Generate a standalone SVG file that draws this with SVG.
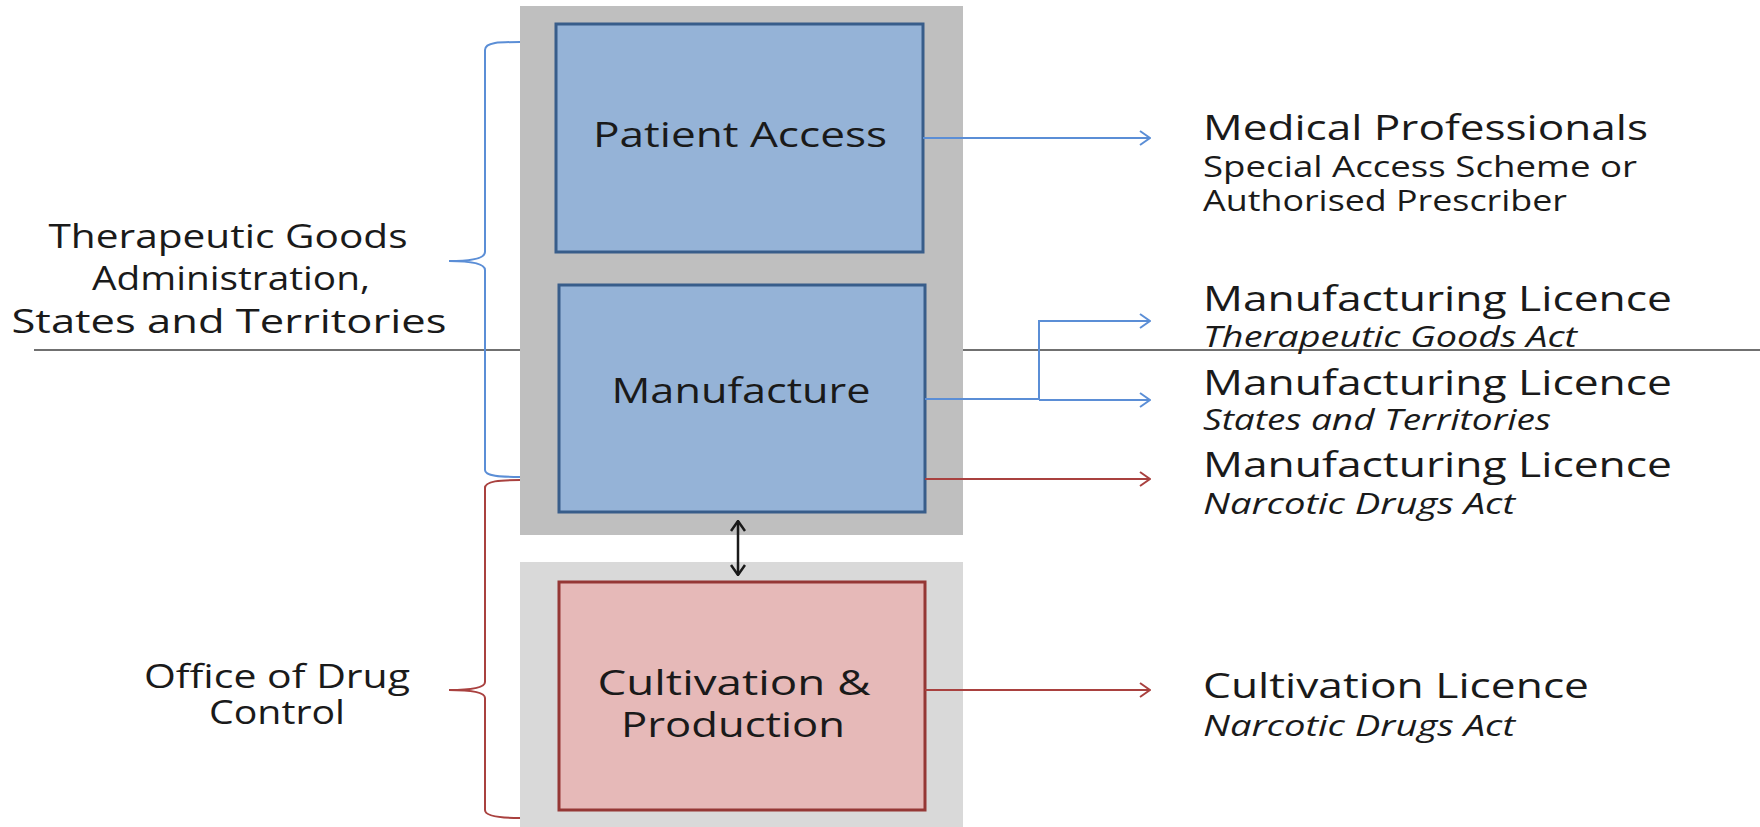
<svg xmlns="http://www.w3.org/2000/svg" width="1760" height="827" viewBox="0 0 1760 827">
<defs>
<style>
text{font-family:"Open Sans","Noto Sans","DejaVu Sans",sans-serif;fill:#1a1a1a}
.big{font-size:34px}
.sub{font-size:29px}
.it{font-style:italic}
.lbl{font-size:32px;text-anchor:middle}
.node{font-size:35px;text-anchor:middle}
.blue{fill:none;stroke:#5B8ED6;stroke-width:2}
.red{fill:none;stroke:#A9413F;stroke-width:2}
.blk{fill:none;stroke:#1a1a1a;stroke-width:2.5}
</style>
<marker id="ab" viewBox="0 0 12 16" refX="11" refY="8" markerWidth="12" markerHeight="16" markerUnits="userSpaceOnUse" orient="auto"><path d="M1,1 L11,8 L1,15" fill="none" stroke="#5B8ED6" stroke-width="2"/></marker>
<marker id="ar" viewBox="0 0 12 16" refX="11" refY="8" markerWidth="12" markerHeight="16" markerUnits="userSpaceOnUse" orient="auto"><path d="M1,1 L11,8 L1,15" fill="none" stroke="#A9413F" stroke-width="2"/></marker>
<marker id="ak" viewBox="0 0 12 16" refX="11" refY="8" markerWidth="12" markerHeight="16" markerUnits="userSpaceOnUse" orient="auto-start-reverse"><path d="M1,1 L11,8 L1,15" fill="none" stroke="#1a1a1a" stroke-width="2.5"/></marker>
</defs>
<rect width="1760" height="827" fill="#ffffff"/>
<line x1="34" y1="350" x2="1760" y2="350" stroke="#404040" stroke-width="1.5"/>
<g id="group-top"><rect x="520" y="6" width="443" height="529" fill="#BFBFBF"/></g>
<g id="group-bottom"><rect x="520" y="562" width="443" height="265" fill="#D9D9D9"/></g>
<g id="patient-access">
<rect x="556" y="24" width="367" height="228" fill="#95B3D7" stroke="#385D8A" stroke-width="3"/>
<text class="node" x="740" y="147" textLength="294" lengthAdjust="spacingAndGlyphs">Patient Access</text>
</g>
<g id="manufacture">
<rect x="559" y="285" width="366" height="227" fill="#95B3D7" stroke="#385D8A" stroke-width="3"/>
<text class="node" x="741" y="403" textLength="259" lengthAdjust="spacingAndGlyphs">Manufacture</text>
</g>
<g id="cultivation">
<rect x="559" y="582" width="366" height="228" fill="#E6B9B8" stroke="#953735" stroke-width="3"/>
<text class="node" x="734" y="695" textLength="273" lengthAdjust="spacingAndGlyphs">Cultivation &amp;</text>
<text class="node" x="733" y="737" textLength="224" lengthAdjust="spacingAndGlyphs">Production</text>
</g>
<g id="tga-label">
<text class="lbl" x="228" y="248" textLength="359" lengthAdjust="spacingAndGlyphs">Therapeutic Goods</text>
<text class="lbl" x="231" y="290" textLength="278" lengthAdjust="spacingAndGlyphs">Administration,</text>
<text class="lbl" x="229" y="333" textLength="435" lengthAdjust="spacingAndGlyphs">States and Territories</text>
</g>
<g id="odc-label">
<text class="lbl" x="277" y="688" textLength="266" lengthAdjust="spacingAndGlyphs">Office of Drug</text>
<text class="lbl" x="277" y="724" textLength="136" lengthAdjust="spacingAndGlyphs">Control</text>
</g>
<g id="medical">
<text class="big" x="1203" y="140" textLength="445" lengthAdjust="spacingAndGlyphs">Medical Professionals</text>
<text class="sub" x="1203" y="177" textLength="434" lengthAdjust="spacingAndGlyphs">Special Access Scheme or</text>
<text class="sub" x="1203" y="211" textLength="364" lengthAdjust="spacingAndGlyphs">Authorised Prescriber</text>
</g>
<g id="ml-tga">
<text class="big" x="1203" y="311" textLength="469" lengthAdjust="spacingAndGlyphs">Manufacturing Licence</text>
<text class="sub it" x="1203" y="347" textLength="374" lengthAdjust="spacingAndGlyphs">Therapeutic Goods Act</text>
</g>
<g id="ml-st">
<text class="big" x="1203" y="395" textLength="469" lengthAdjust="spacingAndGlyphs">Manufacturing Licence</text>
<text class="sub it" x="1203" y="430" textLength="348" lengthAdjust="spacingAndGlyphs">States and Territories</text>
</g>
<g id="ml-nda">
<text class="big" x="1203" y="477" textLength="469" lengthAdjust="spacingAndGlyphs">Manufacturing Licence</text>
<text class="sub it" x="1203" y="514" textLength="312" lengthAdjust="spacingAndGlyphs">Narcotic Drugs Act</text>
</g>
<g id="cl-nda">
<text class="big" x="1203" y="698" textLength="386" lengthAdjust="spacingAndGlyphs">Cultivation Licence</text>
<text class="sub it" x="1203" y="736" textLength="312" lengthAdjust="spacingAndGlyphs">Narcotic Drugs Act</text>
</g>
<g id="connectors">
<path class="blue" d="M520,42 C500,42 485,42 485,50 L485,252 C485,259 470,261 449,261 C470,261 485,263 485,270 L485,470 C485,476 500,477 520,477"/>
<path class="red" d="M520,480 C500,480 485,481 485,488 L485,682 C485,688 470,690 449,690 C470,690 485,692 485,698 L485,810 C485,816 500,818 520,818"/>
<line class="blue" x1="923" y1="138" x2="1150" y2="138" marker-end="url(#ab)"/>
<line class="blue" x1="925" y1="399" x2="1039" y2="399"/>
<path class="blue" d="M1039,400 L1039,321 L1150,321" marker-end="url(#ab)"/>
<line class="blue" x1="1039" y1="400" x2="1150" y2="400" marker-end="url(#ab)"/>
<line class="red" x1="925" y1="479" x2="1150" y2="479" marker-end="url(#ar)"/>
<line class="red" x1="925" y1="690" x2="1150" y2="690" marker-end="url(#ar)"/>
<line class="blk" x1="738" y1="521" x2="738" y2="575" marker-start="url(#ak)" marker-end="url(#ak)"/>
</g>
</svg>
